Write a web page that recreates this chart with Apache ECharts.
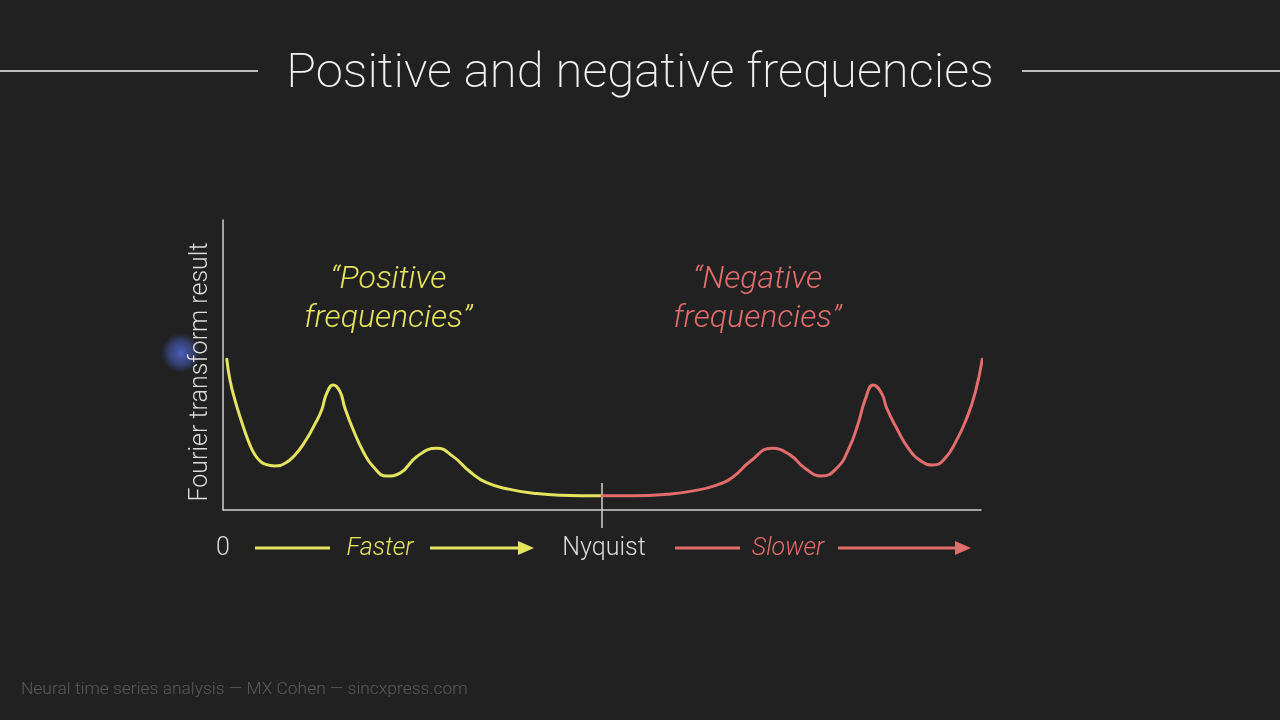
<!DOCTYPE html>
<html><head><meta charset="utf-8">
<script src="https://cdn.jsdelivr.net/npm/echarts@6/dist/echarts.min.js"></script>
<style>html,body{margin:0;padding:0;background:#212121;}#c{width:1280px;height:720px;}</style>
</head><body><div id="c"></div>
<script>
// Positive-frequency half (0 .. Nyquist), x in % of span, y arbitrary amplitude
const posX = [0.5, 0.92, 1.58, 2.24, 2.90, 3.56, 4.22, 4.88, 5.54, 6.86, 8.18, 9.50, 10.82, 12.14, 13.02, 13.68, 14.55, 15.44, 16.09, 17.19, 18.51, 19.83, 21.60, 23.35, 25.55, 28.19, 30.38, 32.59, 34.79, 37.86, 40.94, 44.46, 50.0];
const posY = [52.0, 44.8, 37.9, 32.2, 27.0, 22.4, 19.0, 16.9, 15.8, 15.2, 16.1, 19.0, 23.6, 29.7, 34.5, 40.2, 43.1, 40.8, 35.1, 27.6, 20.1, 14.9, 11.7, 12.7, 18.4, 21.3, 18.4, 13.2, 9.4, 7.1, 5.8, 5.1, 4.9];
// Negative-frequency half (Nyquist .. end)
const negX = [50.0, 54.13, 58.53, 62.04, 65.13, 67.32, 69.53, 72.39, 74.80, 76.78, 78.98, 80.96, 82.49, 83.81, 84.70, 85.79, 86.90, 87.56, 88.88, 90.41, 92.18, 93.71, 95.25, 96.79, 98.11, 99.21, 100.17];
const negY = [4.9, 4.9, 5.4, 6.6, 8.6, 11.5, 16.7, 21.3, 19.0, 14.4, 11.7, 14.4, 20.7, 29.9, 37.9, 43.1, 40.2, 35.1, 28.2, 21.3, 16.7, 15.5, 17.8, 24.1, 31.6, 40.2, 52.0];
const nyquistX = 50;
const xMin = 0, xMax = 100, yMin = 0, yMax = 100;
const titleText = 'Positive and negative frequencies';
const yName = 'Fourier transform result';
const posLabel = '\u201cPositive\nfrequencies\u201d';
const negLabel = '\u201cNegative\nfrequencies\u201d';
const footer = 'Neural time series analysis \u2014 MX Cohen \u2014 sincxpress.com';

const YEL = '#e4e45e', RED = '#e36c6c', AX = '#cfcfcf', FONT = 'Roboto';
const chart = echarts.init(document.getElementById('c'));
const zip = (a, b) => a.map((v, i) => [v, b[i]]);

chart.setOption({
  backgroundColor: '#212121',
  animation: false,
  grid: {left: 223, top: 220, width: 758, height: 290},
  xAxis: {type: 'value', min: xMin, max: xMax, axisLine: {lineStyle: {color: AX, width: 1.5}}, axisTick: {show: false}, axisLabel: {show: false}, splitLine: {show: false}},
  yAxis: {type: 'value', min: yMin, max: yMax, axisLine: {show: true, lineStyle: {color: AX, width: 1.5}}, axisTick: {show: false}, axisLabel: {show: false}, splitLine: {show: false},
    name: yName, nameLocation: 'middle', nameRotate: 90, nameGap: 10,
    nameTextStyle: {color: '#dcdcdc', fontSize: 25, fontFamily: FONT, fontWeight: 300, padding: [0, 0, 0, -14]}},
  series: [
    {type: 'line', data: zip(posX, posY), smooth: 0.5, showSymbol: false, clip: false, lineStyle: {color: YEL, width: 3, cap: 'round', join: 'round'}},
    {type: 'line', data: zip(negX, negY), smooth: 0.5, showSymbol: false, clip: false, lineStyle: {color: RED, width: 3, cap: 'round', join: 'round'}}
  ]
});

const p0 = chart.convertToPixel({gridIndex: 0}, [xMin, yMin]);
const pN = chart.convertToPixel({gridIndex: 0}, [nyquistX, yMin]);
const pE = chart.convertToPixel({gridIndex: 0}, [xMax, yMin]);
const pPos = chart.convertToPixel({gridIndex: 0}, [21.8, 86]);
const pNeg = chart.convertToPixel({gridIndex: 0}, [70.5, 86]);
const ly = p0[1] + 39;
const txt = (x, y, s, color, size, italic, align, w) => ({type: 'text', x, y, style: {text: s, fill: color, font: (italic ? 'italic ' : '') + (w || 300) + ' ' + size + 'px ' + FONT, textAlign: align || 'center', textVerticalAlign: 'middle'}});
const line = (x1, y1, x2, y2, color, w) => ({type: 'line', shape: {x1, y1, x2, y2}, style: {stroke: color, lineWidth: w}});
const head = (x, y, color) => ({type: 'polygon', shape: {points: [[x, y], [x - 16, y - 7], [x - 16, y + 7]]}, style: {fill: color}});

chart.setOption({graphic: [
  txt(640, 75, titleText, '#f2f2f2', 49, false, 'center', 200),
  line(0, 71, 258, 71, '#bdbdbd', 2),
  line(1022, 71, 1280, 71, '#bdbdbd', 2),
  line(pN[0], pN[1] - 27, pN[0], pN[1] + 18, AX, 1.5),
  {type: 'text', x: pPos[0], y: pPos[1], style: {text: posLabel, fill: YEL, font: 'italic 300 32px ' + FONT, textAlign: 'center', textVerticalAlign: 'top', lineHeight: 39}},
  {type: 'text', x: pNeg[0], y: pNeg[1], style: {text: negLabel, fill: RED, font: 'italic 300 32px ' + FONT, textAlign: 'center', textVerticalAlign: 'top', lineHeight: 39}},
  txt(p0[0], ly, '0', '#dcdcdc', 25, false),
  line(255, ly - 1, 330, ly - 1, YEL, 3),
  txt(380, ly, 'Faster', YEL, 25, true),
  line(430, ly - 1, 520, ly - 1, YEL, 3),
  head(534, ly - 1, YEL),
  txt(pN[0] + 2, ly, 'Nyquist', '#dcdcdc', 25, false),
  line(675, ly - 1, 740, ly - 1, RED, 3),
  txt(788, ly, 'Slower', RED, 25, true),
  line(838, ly - 1, 956, ly - 1, RED, 3),
  head(pE[0] - 10, ly - 1, RED),
  {type: 'circle', shape: {cx: 181, cy: 353, r: 20}, style: {fill: {type: 'radial', x: 0.5, y: 0.5, r: 0.5, colorStops: [{offset: 0, color: 'rgba(80,100,200,0.9)'}, {offset: 0.6, color: 'rgba(70,90,180,0.55)'}, {offset: 1, color: 'rgba(60,80,160,0)'}]}}},
  txt(21, 690, footer, '#5a5a5a', 17.4, false, 'left')
]});
</script></body></html>
